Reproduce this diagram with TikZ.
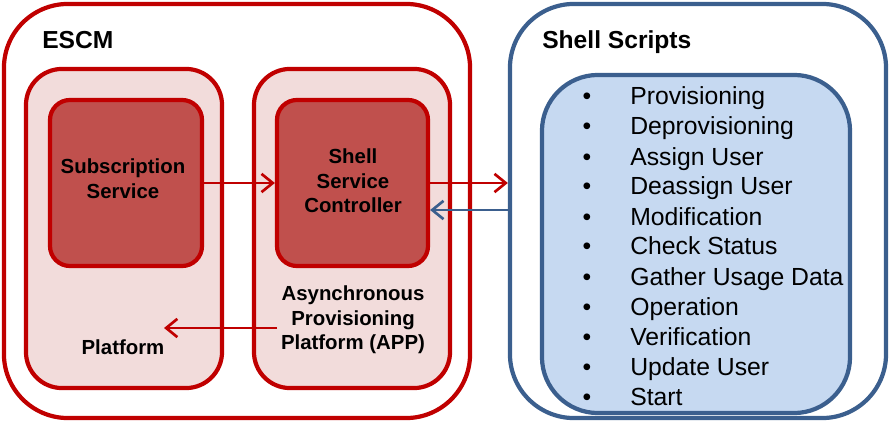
\documentclass[tikz,border=0pt]{standalone}
\usepackage{fontspec}
\setmainfont{Liberation Sans}
\usetikzlibrary{arrows.meta, positioning, calc}

\definecolor{escmred}{HTML}{C00000}
\definecolor{boxpink}{HTML}{F2DCDB}
\definecolor{boxred}{HTML}{C0504D}
\definecolor{scriptblue}{HTML}{3B5F8E}
\definecolor{listblue}{HTML}{C6D9F1}

\begin{document}
\begin{tikzpicture}[x=0.025cm, y=-0.025cm,
    bigbox/.style={draw, line width=3pt, rounded corners=1.6cm, inner sep=0pt},
    pinkbox/.style={draw=escmred, fill=boxpink, line width=3pt, rounded corners=0.9cm,
        minimum width=4.9cm, minimum height=7.975cm},
    redbox/.style={draw=escmred, fill=boxred, line width=3pt, rounded corners=0.5cm,
        minimum width=3.8cm, minimum height=4.15cm},
    label/.style={align=center, font=\bfseries\fontsize{14.5}{17.5}\selectfont},
    title/.style={anchor=base west, inner sep=0pt, font=\bfseries\fontsize{17.5}{20}\selectfont},
    entry/.style={anchor=base west, inner sep=0pt, font=\fontsize{17.6}{20}\selectfont},
    redarrow/.style={draw=escmred, line width=1.9pt, -{Straight Barb[length=8pt, width=13pt]}},
    bluearrow/.style={draw=scriptblue, line width=1.9pt, -{Straight Barb[length=8pt, width=13pt]}}]

    \useasboundingbox (0,0) rectangle (890,427);

    % ESCM side
    \node[bigbox, draw=escmred, minimum width=11.65cm, minimum height=10.35cm] (escm) at (237,211) {};
    \node[title] (escmtitle) at (42,49) {ESCM};
    \node[pinkbox] (platform) at (124,228.5) {};
    \node[pinkbox] (app) at (352,228.5) {};
    \node[redbox] (sub) at (126,183) {};
    \node[redbox, minimum width=3.775cm] (ctrl) at (352.5,183) {};
    \node[label] (sublabel) at (123,179) {Subscription\\Service};
    \node[label] (ctrllabel) at (353,181) {Shell\\Service\\Controller};
    \node[label] (applabel) at (353,320) {Asynchronous\\Provisioning\\Platform (APP)};
    \node[label] (platlabel) at (123,347) {Platform};

    % Shell Scripts side
    \node[bigbox, draw=scriptblue, minimum width=9.4cm, minimum height=10.35cm] (scripts) at (698,211) {};
    \node[title] (scriptstitle) at (542,49) {Shell Scripts};
    \node[draw=scriptblue, fill=listblue, line width=3pt, rounded corners=1.4cm,
        minimum width=7.7cm, minimum height=8.45cm] (list) at (696,244) {};
    \foreach \entry [count=\i] in {Provisioning, Deprovisioning, Assign User, Deassign User,
        Modification, Check Status, Gather Usage Data, Operation, Verification, Update User, Start} {
        \node[entry, anchor=base] (dot\i) at (587,{75+30*\i}) {•};
        \node[entry] (task\i) at (630,{75+30*\i}) {\entry};
    }

    % Arrows
    \coordinate (back) at ($(ctrl.east)+(0,27)$);
    \coordinate (appout) at (277,328);
    \coordinate (platin) at (164,328);
    \draw[redarrow] (sub) -- (ctrl);
    \draw[redarrow] (ctrl.east) -- (ctrl.east -| scripts.west);
    \draw[bluearrow] (back -| scripts.west) -- (back);
    \draw[redarrow] (appout) -- (platin);
\end{tikzpicture}
\end{document}
